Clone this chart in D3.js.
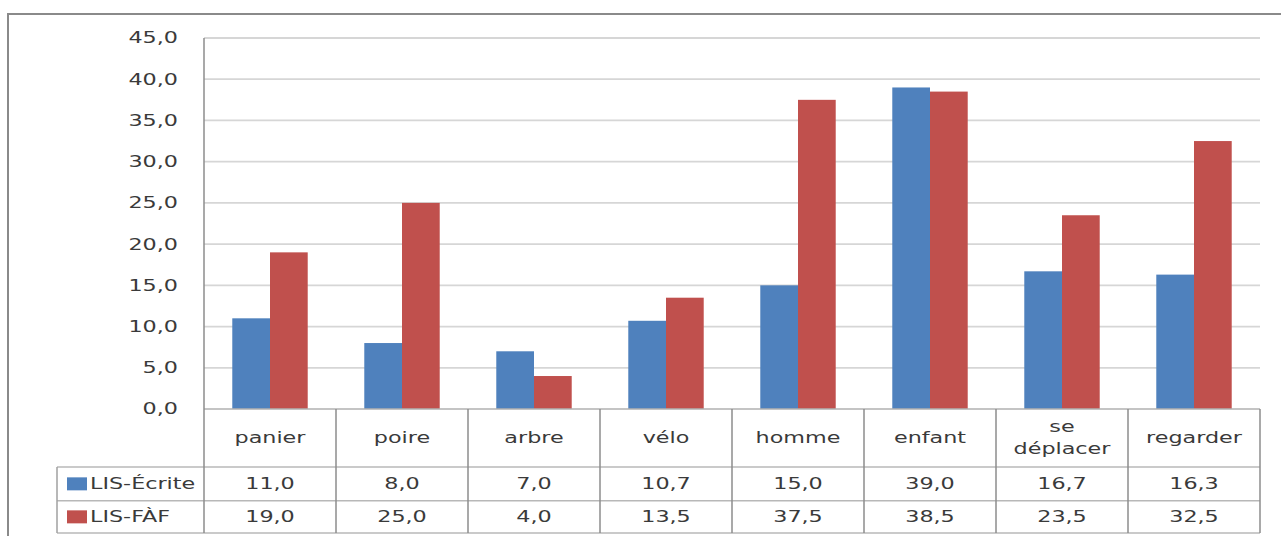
<!DOCTYPE html>
<html><head><meta charset="utf-8">
<script src="https://cdn.jsdelivr.net/npm/d3@7"></script>
<style>
html,body{margin:0;padding:0;background:#fff;}
svg{display:block;}
text{font-family:"DejaVu Sans",sans-serif;fill:#3a3a3a;}
</style></head>
<body>
<svg id="chart" width="1281" height="536"></svg>
<script>
const categories = ["panier","poire","arbre","vélo","homme","enfant","se déplacer","regarder"];
const categoryLines = [["panier"],["poire"],["arbre"],["vélo"],["homme"],["enfant"],["se","déplacer"],["regarder"]];
const seriesNames = ["LIS-Écrite","LIS-FÀF"];
const ecriteValues = [11.0, 8.0, 7.0, 10.7, 15.0, 39.0, 16.7, 16.3];
const fafValues = [19.0, 25.0, 4.0, 13.5, 37.5, 38.5, 23.5, 32.5];
const yTicks = [0,5,10,15,20,25,30,35,40,45];
const colors = ["#4F81BD","#C0504D"];

(function(){
const seriesValues = [ecriteValues, fafValues];
const fmt = v => d3.format(".1f")(v).replace(".", ",");
const SX = 1.35, FS = 16.5;

const svg = d3.select("#chart");
const pLeft = 204, pRight = 1260, pTop = 38, base = 409;
const rowA = 467, rowB = 500.7, rowC = 533, legLeft = 57;

// outer border
svg.append("rect").attr("x",8).attr("y",14).attr("width",1300).attr("height",600)
  .attr("fill","none").attr("stroke","#8a8a8a").attr("stroke-width",2);

const x0 = d3.scaleBand().domain(categories).range([pLeft, pRight]).padding(0);
const x1 = d3.scaleBand().domain(seriesNames).range([0, x0.bandwidth()]).paddingInner(0).paddingOuter(0.75);
const y = d3.scaleLinear().domain([0,45]).range([base, pTop]);

function stext(g, x, yy, str, anchor){
  return g.append("text")
    .attr("transform", `translate(${x},${yy}) scale(${SX},1)`)
    .attr("text-anchor", anchor || "middle")
    .attr("dominant-baseline","central")
    .style("font-size", FS+"px")
    .text(str);
}

// gridlines
svg.append("g").selectAll("line").data(yTicks.filter(t=>t>0)).join("line")
  .attr("x1", pLeft).attr("x2", pRight)
  .attr("y1", d=>y(d)).attr("y2", d=>y(d))
  .attr("stroke","#d6d6d6").attr("stroke-width",1.8);

// y tick labels
const yg = svg.append("g");
yTicks.forEach(t => stext(yg, 178, y(t), fmt(t), "end"));

// bars
const bars = svg.append("g");
seriesNames.forEach((s, si) => {
  bars.selectAll(null).data(categories).join("rect")
    .attr("x", d => x0(d) + x1(s))
    .attr("width", x1.bandwidth())
    .attr("y", (d,i) => y(seriesValues[si][i]))
    .attr("height", (d,i) => base - y(seriesValues[si][i]))
    .attr("fill", colors[si]);
});

// table lines
const tg = svg.append("g");
const hl = (a, b, yy, c) => tg.append("line").attr("x1",a).attr("x2",b).attr("y1",yy).attr("y2",yy).attr("stroke",c).attr("stroke-width",1.5);
const vl = (xx, a, b, c) => tg.append("line").attr("x1",xx).attr("x2",xx).attr("y1",a).attr("y2",b).attr("stroke",c).attr("stroke-width",1.5);
hl(pLeft, pRight, base, "#b0b0b0");
hl(legLeft, pRight, rowA, "#b8b8b8");
hl(legLeft, pRight, rowB, "#b8b8b8");
hl(legLeft, pRight, rowC, "#b8b8b8");
vl(pLeft, pTop, rowC, "#8c8c8c");
vl(legLeft, rowA, rowC, "#a0a0a0");
categories.forEach(c => vl(x0(c) + x0.bandwidth(), base, rowC, "#8c8c8c"));

// category labels
categories.forEach((c, i) => {
  const lines = categoryLines[i];
  const cx = x0(c) + x0.bandwidth()/2;
  const mid = (base + rowA)/2;
  lines.forEach((ln, k) => {
    stext(tg, cx, mid + (k - (lines.length-1)/2) * 22, ln);
  });
});

// series rows
const rowsY = [(rowA+rowB)/2, (rowB+rowC)/2];
seriesNames.forEach((s, si) => {
  tg.append("rect").attr("x",67).attr("y",rowsY[si]-6.5).attr("width",20).attr("height",13).attr("fill",colors[si]);
  stext(tg, 90, rowsY[si], s, "start");
  categories.forEach((c, i) => {
    stext(tg, x0(c) + x0.bandwidth()/2, rowsY[si], fmt(seriesValues[si][i]));
  });
});
})();
</script>
</body></html>
